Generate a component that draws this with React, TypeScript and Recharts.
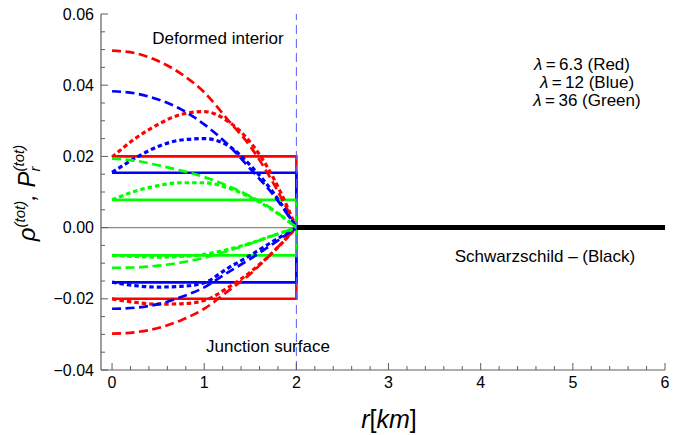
import React from "react";
import { LineChart, Line, XAxis, YAxis, ReferenceLine } from "recharts";

// radial grid inside the star (km)
const rInside = [0, 0.25, 0.5, 0.75, 1.0, 1.25, 1.5, 1.75, 2.0];

// lambda = 6.3 (red)
const redRhoDashed = [0.0497, 0.049, 0.0468, 0.0432, 0.038, 0.0305, 0.0228, 0.0125, 0];
const redRhoDotted = [0.0198, 0.025, 0.029, 0.0318, 0.0326, 0.03, 0.024, 0.014, 0];
const redPDashed = [-0.0298, -0.0294, -0.0282, -0.026, -0.0228, -0.018, -0.013, -0.0068, 0];
const redPDotted = [-0.02, -0.021, -0.0215, -0.0214, -0.0205, -0.017, -0.0125, -0.0068, 0];

// lambda = 12 (blue)
const blueRhoDashed = [0.0383, 0.0377, 0.036, 0.0332, 0.029, 0.0235, 0.0165, 0.0092, 0];
const blueRhoDotted = [0.0155, 0.0195, 0.0228, 0.0246, 0.025, 0.0232, 0.0175, 0.0098, 0];
const bluePDashed = [-0.0228, -0.0225, -0.0215, -0.0195, -0.0168, -0.0127, -0.0088, -0.0045, 0];
const bluePDotted = [-0.0153, -0.0163, -0.0167, -0.0165, -0.0155, -0.0115, -0.0078, -0.0038, 0];

// lambda = 36 (green)
const greenRhoDashed = [0.0194, 0.0188, 0.0175, 0.016, 0.0142, 0.0118, 0.0088, 0.005, 0];
const greenRhoDotted = [0.0078, 0.0102, 0.0118, 0.0126, 0.0126, 0.0112, 0.0085, 0.0048, 0];
const greenPDashed = [-0.0113, -0.0112, -0.0107, -0.0098, -0.0085, -0.0066, -0.0045, -0.0022, 0];
const greenPDotted = [-0.0078, -0.0081, -0.0083, -0.0081, -0.0075, -0.0062, -0.0044, -0.0022, 0];

// solid (constant) profiles with drop at the junction surface
const rSolid = [0, 2, 2];
const redRhoSolid = [0.02, 0.02, 0];
const redPSolid = [-0.02, -0.02, 0];
const blueRhoSolid = [0.0154, 0.0154, 0];
const bluePSolid = [-0.0154, -0.0154, 0];
const greenRhoSolid = [0.0078, 0.0078, 0];
const greenPSolid = [-0.0078, -0.0078, 0];

// Schwarzschild exterior
const rOutside = [2, 6];
const schwarzschild = [0, 0];

// axes
const xMajorTicks = [0, 1, 2, 3, 4, 5, 6];
const yMajorTicks = [-0.04, -0.02, 0, 0.02, 0.04, 0.06];
const xMinorPerMajor = 5;
const yMinorPerMajor = 4;

const xTicks: number[] = [];
for (let i = 0; i < xMajorTicks.length - 1; i++) {
  for (let k = 0; k < xMinorPerMajor; k++) {
    xTicks.push(xMajorTicks[i] + ((xMajorTicks[i + 1] - xMajorTicks[i]) * k) / xMinorPerMajor);
  }
}
xTicks.push(xMajorTicks[xMajorTicks.length - 1]);
const yTicks: number[] = [];
for (let i = 0; i < yMajorTicks.length - 1; i++) {
  for (let k = 0; k < yMinorPerMajor; k++) {
    yTicks.push(yMajorTicks[i] + ((yMajorTicks[i + 1] - yMajorTicks[i]) * k) / yMinorPerMajor);
  }
}
yTicks.push(yMajorTicks[yMajorTicks.length - 1]);

const mk = (rs: number[], vs: number[]) => rs.map((r, i) => ({ r, v: vs[i] }));

const RED = "#ff0000";
const BLUE = "#0000ff";
const GREEN = "#00ff00";
const FRAME = "#5e5e5e";
const FONT = "'Liberation Sans', Arial, sans-serif";

const DASH = "9 4.5";
const DOT = "4.5 3";

const isMajor = (v: number, list: number[]) => list.some((m) => Math.abs(m - v) < 1e-9);
const fmtY = (v: number) => (Math.abs(v) < 1e-12 ? "0.00" : v.toFixed(2).replace("-", "\u2212"));

const BottomTick = (p: any) => {
  const v = p.payload.value;
  const major = isMajor(v, xMajorTicks);
  return (
    <g>
      <line x1={p.x} x2={p.x} y1={p.y} y2={p.y - (major ? 7 : 4)} stroke={FRAME} strokeWidth={1} />
      {major && (
        <text x={p.x} y={p.y + 18} textAnchor="middle" fontSize={16} fontFamily={FONT} fill="#000">
          {String(v)}
        </text>
      )}
    </g>
  );
};
const TopTick = (p: any) => {
  const v = p.payload.value;
  const major = isMajor(v, xMajorTicks);
  return <line x1={p.x} x2={p.x} y1={p.y} y2={p.y + (major ? 7 : 4)} stroke={FRAME} strokeWidth={1} />;
};
const LeftTick = (p: any) => {
  const v = p.payload.value;
  const major = isMajor(v, yMajorTicks);
  return (
    <g>
      <line x1={p.x} x2={p.x + (major ? 7 : 4)} y1={p.y} y2={p.y} stroke={FRAME} strokeWidth={1} />
      {major && (
        <text x={p.x - 7} y={p.y + 5.5} textAnchor="end" fontSize={16} fontFamily={FONT} fill="#000">
          {fmtY(v)}
        </text>
      )}
    </g>
  );
};
const RightTick = (p: any) => {
  const v = p.payload.value;
  const major = isMajor(v, yMajorTicks);
  return <line x1={p.x} x2={p.x - (major ? 7 : 4)} y1={p.y} y2={p.y} stroke={FRAME} strokeWidth={1} />;
};

type S = { name: string; rs: number[]; vs: number[]; color: string; dash?: string; width: number; curve: boolean };
const series: S[] = [
  { name: "redRhoSolid", rs: rSolid, vs: redRhoSolid, color: RED, width: 2.6, curve: false },
  { name: "redPSolid", rs: rSolid, vs: redPSolid, color: RED, width: 2.6, curve: false },
  { name: "blueRhoSolid", rs: rSolid, vs: blueRhoSolid, color: BLUE, width: 2.6, curve: false },
  { name: "bluePSolid", rs: rSolid, vs: bluePSolid, color: BLUE, width: 2.6, curve: false },
  { name: "greenRhoSolid", rs: rSolid, vs: greenRhoSolid, color: GREEN, width: 2.6, curve: false },
  { name: "greenPSolid", rs: rSolid, vs: greenPSolid, color: GREEN, width: 2.6, curve: false },
  { name: "redRhoDashed", rs: rInside, vs: redRhoDashed, color: RED, dash: DASH, width: 2.7, curve: true },
  { name: "redPDashed", rs: rInside, vs: redPDashed, color: RED, dash: DASH, width: 2.7, curve: true },
  { name: "redRhoDotted", rs: rInside, vs: redRhoDotted, color: RED, dash: DOT, width: 3.2, curve: true },
  { name: "redPDotted", rs: rInside, vs: redPDotted, color: RED, dash: DOT, width: 3.2, curve: true },
  { name: "blueRhoDashed", rs: rInside, vs: blueRhoDashed, color: BLUE, dash: DASH, width: 2.7, curve: true },
  { name: "bluePDashed", rs: rInside, vs: bluePDashed, color: BLUE, dash: DASH, width: 2.7, curve: true },
  { name: "blueRhoDotted", rs: rInside, vs: blueRhoDotted, color: BLUE, dash: DOT, width: 3.2, curve: true },
  { name: "bluePDotted", rs: rInside, vs: bluePDotted, color: BLUE, dash: DOT, width: 3.2, curve: true },
  { name: "greenRhoDashed", rs: rInside, vs: greenRhoDashed, color: GREEN, dash: DASH, width: 2.7, curve: true },
  { name: "greenPDashed", rs: rInside, vs: greenPDashed, color: GREEN, dash: DASH, width: 2.7, curve: true },
  { name: "greenRhoDotted", rs: rInside, vs: greenRhoDotted, color: GREEN, dash: DOT, width: 3.2, curve: true },
  { name: "greenPDotted", rs: rInside, vs: greenPDotted, color: GREEN, dash: DOT, width: 3.2, curve: true },
  { name: "schwarzschild", rs: rOutside, vs: schwarzschild, color: "#000000", width: 5, curve: false },
];

export default function App() {
  return (
    <div style={{ position: "absolute", left: 0, top: 0, width: 675, height: 435, background: "#fff" }}>
      <LineChart width={675} height={435} margin={{ top: 14, right: 10, bottom: 35, left: 41 }}>
        <XAxis
          xAxisId="b"
          dataKey="r"
          type="number"
          domain={[-0.12, 6]}
          ticks={xTicks}
          interval={0}
          orientation="bottom"
          height={30}
          tickSize={0}
          tickMargin={0}
          axisLine={{ stroke: FRAME, strokeWidth: 1.2 }}
          tick={BottomTick}
          allowDataOverflow
        />
        <XAxis
          xAxisId="t"
          dataKey="r"
          type="number"
          domain={[-0.12, 6]}
          ticks={xTicks}
          interval={0}
          orientation="top"
          height={0}
          tickSize={0}
          tickMargin={0}
          axisLine={{ stroke: FRAME, strokeWidth: 1.2 }}
          tick={TopTick}
          allowDataOverflow
        />
        <YAxis
          yAxisId="l"
          type="number"
          domain={[-0.04, 0.06]}
          ticks={yTicks}
          interval={0}
          orientation="left"
          width={60}
          tickSize={0}
          tickMargin={0}
          axisLine={{ stroke: FRAME, strokeWidth: 1.2 }}
          tick={LeftTick}
          allowDataOverflow
        />
        <YAxis
          yAxisId="r"
          type="number"
          domain={[-0.04, 0.06]}
          ticks={yTicks}
          interval={0}
          orientation="right"
          width={0}
          tickSize={0}
          tickMargin={0}
          axisLine={{ stroke: FRAME, strokeWidth: 1.2 }}
          tick={RightTick}
          allowDataOverflow
        />
        <ReferenceLine xAxisId="b" yAxisId="l" y={0} stroke="#888888" strokeWidth={1.2} />
        {series.map((s) => (
          <Line
            key={s.name}
            xAxisId="b"
            yAxisId="l"
            data={mk(s.rs, s.vs)}
            dataKey="v"
            type={s.curve ? "monotone" : "linear"}
            stroke={s.color}
            strokeWidth={s.width}
            strokeDasharray={s.dash}
            dot={false}
            activeDot={false}
            isAnimationActive={false}
          />
        ))}
        <ReferenceLine xAxisId="b" yAxisId="l" x={2} stroke="#5a5aff" strokeWidth={1} strokeDasharray="9 5" />
        <text x={218} y={44} textAnchor="middle" fontSize={17} fontFamily={FONT} fill="#000">
          Deformed interior
        </text>
        <text x={268} y={352} textAnchor="middle" fontSize={17} fontFamily={FONT} fill="#000">
          Junction surface
        </text>
        <text x={545} y={262} textAnchor="middle" fontSize={17} fontFamily={FONT} fill="#000">
          Schwarzschild {"\u2013"} (Black)
        </text>
        <text x={582} y={70} textAnchor="middle" fontSize={17} fontFamily={FONT} fill="#000">
          <tspan fontStyle="italic">{"\u03bb"}</tspan>{"\u2009=\u20096.3 (Red)"}
        </text>
        <text x={587} y={88} textAnchor="middle" fontSize={17} fontFamily={FONT} fill="#000">
          <tspan fontStyle="italic">{"\u03bb"}</tspan>{"\u2009=\u200912 (Blue)"}
        </text>
        <text x={587} y={106} textAnchor="middle" fontSize={17} fontFamily={FONT} fill="#000">
          <tspan fontStyle="italic">{"\u03bb"}</tspan>{"\u2009=\u200936 (Green)"}
        </text>
        <text x={389} y={428} textAnchor="middle" fontSize={25} fontFamily={FONT} fill="#000">
          <tspan fontStyle="italic">r</tspan>
          <tspan>[</tspan>
          <tspan fontStyle="italic">km</tspan>
          <tspan>]</tspan>
        </text>
        <text
          x={0}
          y={0}
          transform="translate(35,193) rotate(-90)"
          textAnchor="middle"
          fontSize={24}
          fontFamily={FONT}
          fill="#000"
          fontStyle="italic"
        >
          <tspan>{"\u03c1"}</tspan>
          <tspan fontSize={15} dy={-10}>(tot)</tspan>
          <tspan dy={10}>, </tspan>
          <tspan>P</tspan>
          <tspan fontSize={15} dy={5}>r</tspan>
          <tspan fontSize={15} dx={-5} dy={-16}>(tot)</tspan>
        </text>
      </LineChart>
    </div>
  );
}
